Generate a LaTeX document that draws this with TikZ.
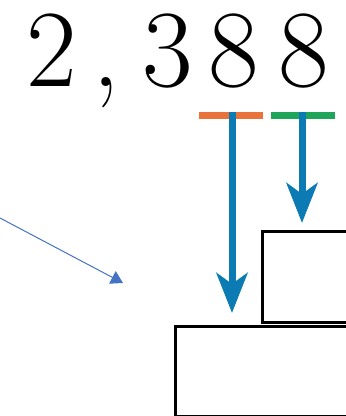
\documentclass[tikz,border=0pt]{standalone}
\usetikzlibrary{arrows.meta}
\definecolor{digitorange}{HTML}{E8743B}
\definecolor{digitgreen}{HTML}{1EA55A}
\definecolor{flowblue}{HTML}{0C7BB3}
\definecolor{pointerblue}{HTML}{4472C4}
\tikzset{
  digit/.style={anchor=base, inner sep=0pt, font=\fontsize{110}{110}\selectfont},
  underbar/.style={line width=7pt},
  placearrow/.style={draw=flowblue, line width=7pt,
    -{Stealth[length=40pt, width=31pt, inset=11pt, fill=flowblue]}},
  placebox/.style={draw=black, line width=2.6pt, fill=white},
  pointer/.style={draw=pointerblue, line width=1pt,
    -{Triangle[length=12pt, width=14pt, fill=pointerblue]}}
}
\begin{document}
\begin{tikzpicture}[x=1pt, y=-1pt]
  \useasboundingbox (0,0) rectangle (346,416);
  \clip (0,0) rectangle (346,416);

  % the number, one character per node
  \node[digit] (d1) at (52,86) {2};
  \node[digit] (comma) at (106,86) {,};
  \node[digit] (d2) at (168,86) {3};
  \node[digit] (d3) at (234,86) {8};
  \node[digit] (d4) at (304,86) {8};

  % coloured bars under the last two digits
  \coordinate (oL) at (199,115);
  \coordinate (oR) at (263,115);
  \coordinate (gL) at (271,115);
  \coordinate (gR) at (335,115);
  \draw[underbar, digitorange] (oL) -- (oR);
  \draw[underbar, digitgreen] (gL) -- (gR);

  % place-value boxes (run off the right edge)
  \node[placebox, anchor=north west, minimum width=120pt, minimum height=91pt,
        inner sep=0pt] (small) at (261,230) {};
  \node[placebox, anchor=north west, minimum width=200pt, minimum height=90pt,
        inner sep=0pt] (big) at (174,325) {};

  % arrows from the bars down to the boxes
  \coordinate (oMid) at (232,112);
  \coordinate (gMid) at (302,112);
  \coordinate (oTip) at (232,313);
  \coordinate (gTip) at (302,223);
  \draw[placearrow] (oMid) -- (oTip);
  \draw[placearrow] (gMid) -- (gTip);

  % thin pointer from the left edge
  \coordinate (pStart) at (0,218);
  \coordinate (pTip) at (123,283);
  \draw[pointer] (pStart) -- (pTip);
\end{tikzpicture}
\end{document}
